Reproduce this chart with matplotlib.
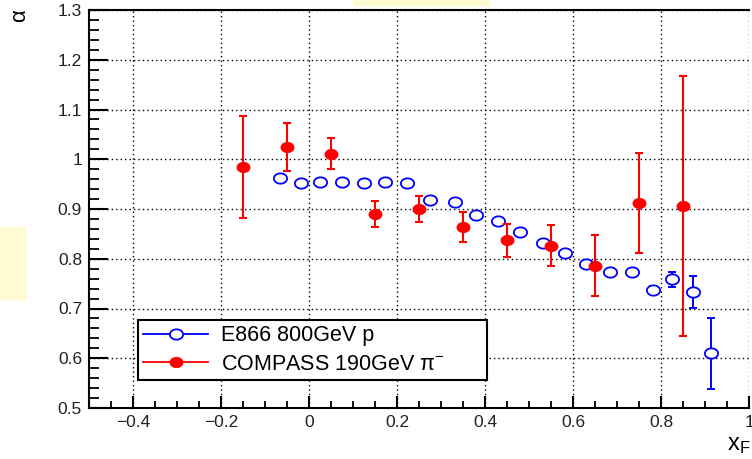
import matplotlib

matplotlib.use("Agg")
import matplotlib.pyplot as plt  # noqa: E402
import numpy as np  # noqa: E402
from matplotlib.lines import Line2D  # noqa: E402
from matplotlib.patches import Rectangle  # noqa: E402
from matplotlib.path import Path  # noqa: E402
from matplotlib.ticker import MultipleLocator  # noqa: E402

# --- data -------------------------------------------------------------------
e866_xf = [-0.066, -0.018, 0.025, 0.075, 0.124, 0.172, 0.222, 0.276, 0.331,
           0.380, 0.430, 0.479, 0.531, 0.581, 0.629, 0.684, 0.733, 0.782,
           0.826, 0.872, 0.914]
e866_alpha = [0.963, 0.952, 0.955, 0.955, 0.952, 0.955, 0.952, 0.918, 0.915,
              0.888, 0.876, 0.853, 0.831, 0.811, 0.789, 0.773, 0.773, 0.738,
              0.759, 0.733, 0.610]
e866_err = [0.004, 0.004, 0.004, 0.004, 0.004, 0.004, 0.004, 0.004, 0.004,
            0.004, 0.004, 0.004, 0.004, 0.004, 0.004, 0.005, 0.006, 0.008,
            0.015, 0.032, 0.071]

compass_xf = [-0.15, -0.05, 0.05, 0.15, 0.25, 0.35, 0.45, 0.55, 0.65, 0.75, 0.85]
compass_alpha = [0.984, 1.025, 1.011, 0.890, 0.900, 0.863, 0.837, 0.826, 0.786,
                 0.912, 0.906]
compass_err = [0.102, 0.048, 0.031, 0.026, 0.027, 0.030, 0.033, 0.041, 0.061,
               0.100, 0.262]

labels = ["E866 800GeV p", "COMPASS 190GeV π$^{-}$"]

C_BLUE = "#0000ff"
C_RED = "#ff0000"

plt.rcParams.update(
    {
        "font.family": ["Liberation Sans", "DejaVu Sans"],
        "mathtext.fontset": "custom",
        "mathtext.rm": "Liberation Sans",
        "mathtext.it": "Liberation Sans:italic",
        "axes.linewidth": 1.5,
    }
)

# squashed circle, like ROOT's markers in the stretched screenshot
t = np.linspace(0, 2 * np.pi, 61)
ellipse = Path(np.column_stack([np.cos(t), 0.78 * np.sin(t)]), closed=True)

fig = plt.figure(figsize=(7.52, 4.59), dpi=100)
ax = fig.add_axes([89 / 752, 1 - 408 / 459, (749 - 89) / 752, (408 - 10) / 459])

ax.errorbar(e866_xf, e866_alpha, yerr=e866_err, fmt="none", ecolor=C_BLUE,
            elinewidth=1.4, capsize=2.8, capthick=1.4, zorder=3)
ax.plot(e866_xf, e866_alpha, ls="none", marker=ellipse, ms=9.5, mfc="white",
        mec=C_BLUE, mew=1.3, zorder=4)
ax.errorbar(compass_xf, compass_alpha, yerr=compass_err, fmt="none", ecolor=C_RED,
            elinewidth=1.5, capsize=2.8, capthick=1.5, zorder=5)
ax.plot(compass_xf, compass_alpha, ls="none", marker=ellipse, ms=9, mfc=C_RED,
        mec=C_RED, zorder=6)

ax.set_xlim(-0.5, 1.0)
ax.set_ylim(0.5, 1.3)
ax.xaxis.set_minor_locator(MultipleLocator(0.05))
ax.yaxis.set_minor_locator(MultipleLocator(0.02))
ax.set_xticks([-0.4, -0.2, 0, 0.2, 0.4, 0.6, 0.8, 1.0])
ax.set_xticklabels(["\u22120.4", "\u22120.2", "0", "0.2", "0.4", "0.6", "0.8", "1"])
ax.set_yticks([0.5, 0.6, 0.7, 0.8, 0.9, 1.0, 1.1, 1.2, 1.3])
ax.set_yticklabels(["0.5", "0.6", "0.7", "0.8", "0.9", "1", "1.1", "1.2", "1.3"])
ax.tick_params(axis="both", which="both", direction="in", labelsize=12.5,
               colors="black", labelcolor="#222222")
ax.tick_params(axis="x", which="major", length=9, width=1.5, pad=5)
ax.tick_params(axis="x", which="minor", length=5, width=1.3)
ax.tick_params(axis="y", which="major", length=14, width=1.5, pad=5)
ax.tick_params(axis="y", which="minor", length=7, width=1.3)
ax.grid(True, which="major", color="black", ls=(0, (1, 2.2)), lw=1.0)
ax.set_axisbelow(True)
ax.spines["right"].set_visible(False)  # frame edge falls just outside the crop

handles = [
    Line2D([], [], color=C_BLUE, lw=1.3, marker=ellipse, ms=9.5, mfc="white",
           mec=C_BLUE, mew=1.3),
    Line2D([], [], color=C_RED, lw=1.3, marker=ellipse, ms=9, mfc=C_RED, mec=C_RED),
]
leg = ax.legend(handles, labels, loc="upper left",
                bbox_to_anchor=(49 / 660, 0.121, 349 / 660, 0.1),
                mode="expand", borderaxespad=0, fontsize=15.5, handlelength=3.0,
                handletextpad=0.6, labelspacing=0.35, borderpad=0.25,
                fancybox=False, framealpha=1, edgecolor="black")
leg.get_frame().set_linewidth(1.5)

fig.text(20 / 752, 1 - 16 / 459, "α", rotation=90, fontsize=16, ha="center",
         va="center")
fig.text(727 / 752, 1 - 450 / 459, "x$_{\\mathrm{F}}$", fontsize=17, ha="left",
         va="baseline")

# pale yellow smudges in the screenshot
fig.patches.append(Rectangle((353 / 752, 1 - 5 / 459), 136 / 752, 5 / 459,
                             transform=fig.transFigure, color="#fffbd0", zorder=0))
fig.patches.append(Rectangle((0, 1 - 299 / 459), 25 / 752, 72 / 459,
                             transform=fig.transFigure, color="#fffbd0", zorder=0))

fig.savefig("out.png", dpi=100)
